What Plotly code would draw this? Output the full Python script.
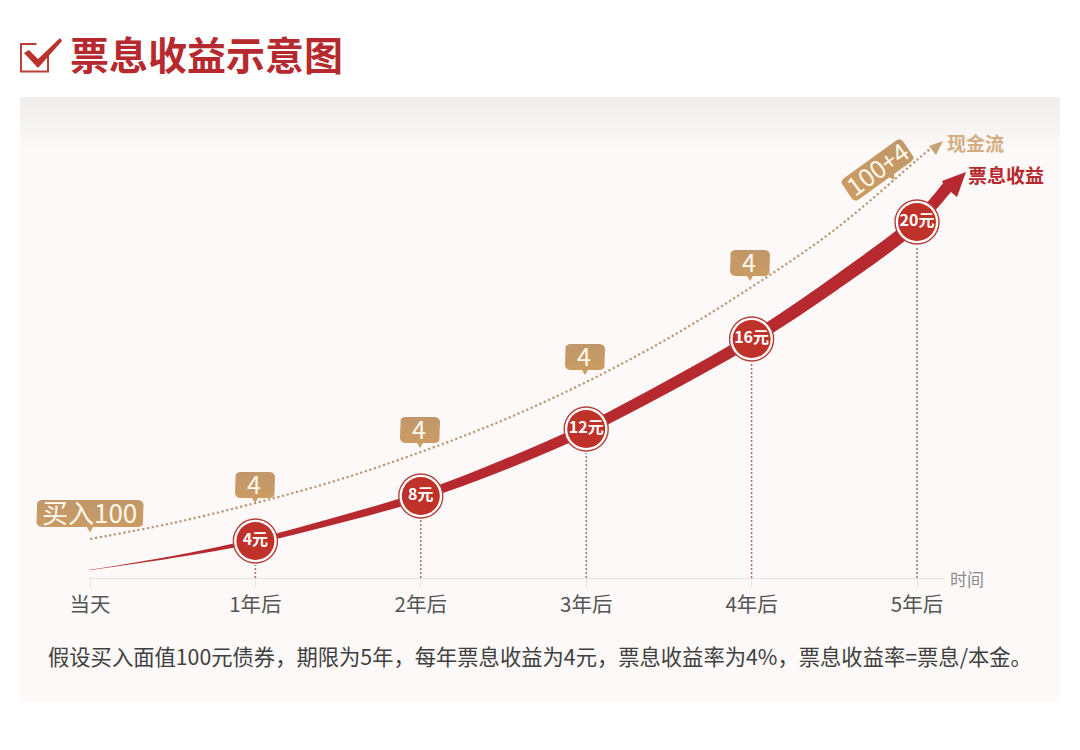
import math
import plotly.graph_objects as go

# ---------- data (schematic chart: years on x, drawn height above the time axis on y) ----------
tick_labels = ["当天", "1年后", "2年后", "3年后", "4年后", "5年后"]
years = [0, 1, 2, 3, 4, 5]
coupon_t = [0, 0.5, 1, 1.5, 2, 2.5, 3, 3.5, 4, 4.5, 5, 5.1, 5.17]
coupon_h = [8, 21, 37, 58, 82, 113, 149, 192, 239, 294, 356, 375, 388]
coupon_w = [0.5, 2, 5, 7, 9, 11, 12, 13, 14, 16, 17, 16, 15]
cash_t = [0, 0.5, 1, 1.5, 2, 2.5, 3, 3.5, 4, 4.5, 5, 5.1]
cash_h = [39, 55, 75, 98, 126, 158, 196, 240, 291, 348, 418, 432]
marker_t = [1, 2, 3, 4, 5]
marker_h = [37, 82, 149, 239, 356]
marker_labels = ["4元", "8元", "12元", "16元", "20元"]
title_text = "票息收益示意图"
note_text = "假设买入面值100元债券，期限为5年，每年票息收益为4元，票息收益率为4%，票息收益率=票息/本金。"

RED = "#b5292f"
CIRCLE = "#bf3229"
FONT = "Noto Sans CJK SC"

PX_PER_YEAR = 165.4
BASE_X, BASE_Y, TOP_Y, AXIS_END = 90, 578, 98, 945
W, H = 1080, 750


def X(px):
    return (px - BASE_X) / PX_PER_YEAR


def Y(py):
    return BASE_Y - py


fig = go.Figure()
over = dict(xaxis="x2", yaxis="y2", showlegend=False, hoverinfo="skip", cliponaxis=False)

# panel background (paper-referenced so it sits beneath both axis pairs)
shapes = []
panel_top, panel_bot, fade_end = 97, 702, 150
c0, c1 = (239, 237, 236), (252, 249, 248)
steps = 26


def panel_band(top, bottom, col):
    return dict(type="rect", layer="below", xref="paper", yref="paper", x0=20 / W, x1=1060 / W,
                y0=1 - top / H, y1=1 - bottom / H, fillcolor=f"rgb{col}", line_width=0)


for i in range(steps):
    a = panel_top + (fade_end - panel_top) * i / steps
    b = panel_top + (fade_end - panel_top) * (i + 1) / steps
    f = i / (steps - 1)
    col = tuple(round(c0[k] + (c1[k] - c0[k]) * f) for k in range(3))
    shapes.append(panel_band(a, b + 0.5, col))
shapes.append(panel_band(fade_end, panel_bot, c1))
# title check-box icon
shapes.append(dict(type="rect", xref="x2", yref="y2", x0=X(21), x1=X(48), y0=Y(44), y1=Y(71.5),
                   fillcolor="rgba(0,0,0,0)", line=dict(color="#b8413a", width=2)))


def poly(points, color):
    path = "M " + " L ".join(f"{X(a)},{Y(b)}" for a, b in points) + " Z"
    return dict(type="path", xref="x2", yref="y2", path=path, fillcolor=color, line_width=0)


shapes.append(poly([(36, 42), (51, 42), (51, 50), (40, 59)], "white"))
shapes.append(poly([(24, 53), (29, 50), (38, 59), (60, 38), (62, 41), (38, 68)], "#b8342d"))

# droplines (on the axis pair that carries the time axis)
drop_x, drop_y = [], []
for t, h in zip(marker_t, marker_h):
    drop_x += [t, t, None]
    drop_y += [0, h - 24, None]
fig.add_trace(go.Scatter(x=drop_x, y=drop_y, mode="lines", showlegend=False, hoverinfo="skip",
                         line=dict(color="#b56a6a", width=1.5, dash="2px,2px")))

# cash-flow dotted curve + arrow head
fig.add_trace(go.Scatter(x=cash_t, y=cash_h, mode="lines",
                         line=dict(color="#b99672", width=2.2, dash="2.2px,2.6px", shape="spline"), **over))
fig.add_trace(go.Scatter(x=[X(943), X(929), X(936), X(943)], y=[Y(141), Y(146), Y(155), Y(141)],
                         mode="lines", fill="toself", fillcolor="#c9a274", line=dict(width=0), **over))

# coupon curve (variable-width band) + arrow head with its straight shaft
upper = [h + w / 2 for h, w in zip(coupon_h, coupon_w)]
lower = [h - w / 2 for h, w in zip(coupon_h, coupon_w)]
fig.add_trace(go.Scatter(x=coupon_t + coupon_t[::-1], y=upper + lower[::-1], mode="lines", fill="toself",
                         fillcolor=RED, line=dict(width=0, color=RED, shape="spline"), **over))
fig.add_trace(go.Scatter(x=[X(925), X(944), X(942), X(966), X(957), X(951), X(928), X(925)],
                         y=[Y(205), Y(186), Y(181), Y(172), Y(197), Y(192), Y(219), Y(205)],
                         mode="lines", fill="toself", fillcolor=RED, line=dict(width=0), **over))


# callout tags
def tag_path(cx, cy, w, h, tip_dx, tip_dy, angle=0, r=5):
    pts = []
    corners = [(w / 2 - r, -h / 2 + r, -90), (w / 2 - r, h / 2 - r, 0),
               (-w / 2 + r, h / 2 - r, 90), (-w / 2 + r, -h / 2 + r, 180)]
    for k, (ax, ay, a0) in enumerate(corners):
        for s in range(7):
            a = math.radians(a0 + 15 * s)
            pts.append((ax + r * math.cos(a), ay + r * math.sin(a)))
        if k == 1:
            pts += [(tip_dx + 3, h / 2), (tip_dx, tip_dy), (tip_dx - 3, h / 2)]
    ca, sa = math.cos(math.radians(angle)), math.sin(math.radians(angle))
    return [(cx + p * ca - q * sa, cy + p * sa + q * ca) for p, q in pts]


tags = [
    ("买入100", 90, 513.5, 107, 27, 0, 19, 0, 26),
    ("4", 255, 485, 40, 26, 0, 18, 0, 25),
    ("4", 420, 430, 40, 26, 0, 18, 0, 25),
    ("4", 585, 357, 40, 26, 0, 18, 0, 25),
    ("4", 750, 263, 40, 26, 0, 18, 0, 25),
    ("100+4", 877.5, 170, 75, 26, 8, 18, -36, 25),
]
ann = []
for text, cx, cy, w, h, dx, dy, ang, size in tags:
    pts = tag_path(cx, cy, w, h, dx, dy, ang)
    pts.append(pts[0])
    fig.add_trace(go.Scatter(x=[X(p[0]) for p in pts], y=[Y(p[1]) for p in pts], mode="lines", fill="toself",
                             fillgradient=dict(type="vertical",
                                               colorscale=[[0, "#cc9d62"], [1, "#c1976a"]]),
                             line=dict(width=0), **over))
    ann.append(dict(x=X(cx - 1), y=Y(cy - 2), text=text, textangle=ang,
                    font=dict(family=FONT, size=size, color="#fff8ec")))

# circle markers
fig.add_trace(go.Scatter(x=marker_t, y=marker_h, mode="markers",
                         marker=dict(size=44, color="white", line=dict(color="#b5403c", width=1.4)), **over))
fig.add_trace(go.Scatter(x=marker_t, y=marker_h, mode="markers+text", text=marker_labels,
                         textposition="middle center",
                         textfont=dict(family=FONT, size=16, color="white", weight=700),
                         marker=dict(size=38, color=CIRCLE), **over))

# free text
ann += [
    dict(x=X(69), y=Y(53), xanchor="left", text=title_text,
         font=dict(family=FONT, size=39, color=RED, weight=700)),
    dict(x=X(946), y=Y(142), xanchor="left", text="现金流",
         font=dict(family=FONT, size=19, color="#d3ad80", weight=700)),
    dict(x=X(967), y=Y(174), xanchor="left", text="票息收益",
         font=dict(family=FONT, size=19, color=RED, weight=700)),
    dict(x=X(949), y=Y(578), xanchor="left", text="时间", font=dict(family=FONT, size=17, color="#8c8c8c")),
    dict(x=X(540), y=Y(655.5), text=note_text, font=dict(family=FONT, size=21.3, color="#404040")),
]
for a in ann:
    a.update(xref="x2", yref="y2", showarrow=False, borderpad=0)
    a.setdefault("xanchor", "center")
    a["yanchor"] = "middle"

fig.update_layout(
    width=W, height=H, autosize=False,
    margin=dict(l=0, r=0, t=0, b=0, autoexpand=False),
    paper_bgcolor="white", plot_bgcolor="rgba(0,0,0,0)",
    shapes=shapes, annotations=ann, showlegend=False,
    xaxis=dict(domain=[BASE_X / W, AXIS_END / W], range=[0, X(AXIS_END)], tickvals=years, ticktext=tick_labels,
               showgrid=False, zeroline=False, anchor="y",
               showline=True, linecolor="#e6e2df", linewidth=1, ticks="outside", ticklen=8,
               tickcolor="#e6e2df", tickwidth=1, tickfont=dict(family=FONT, size=20.5, color="#555555"),
               fixedrange=True),
    yaxis=dict(domain=[(H - BASE_Y) / H, (H - TOP_Y) / H], range=[0, BASE_Y - TOP_Y], visible=False,
               fixedrange=True, anchor="x"),
    xaxis2=dict(domain=[0, 1], range=[X(0), X(W)], visible=False, fixedrange=True, anchor="y2"),
    yaxis2=dict(domain=[0, 1], range=[Y(H), Y(0)], visible=False, fixedrange=True, anchor="x2"),
)
fig.write_html("out.html", config=dict(displayModeBar=False),
               post_script="document.body.style.margin='0';document.documentElement.style.overflow='hidden';")
